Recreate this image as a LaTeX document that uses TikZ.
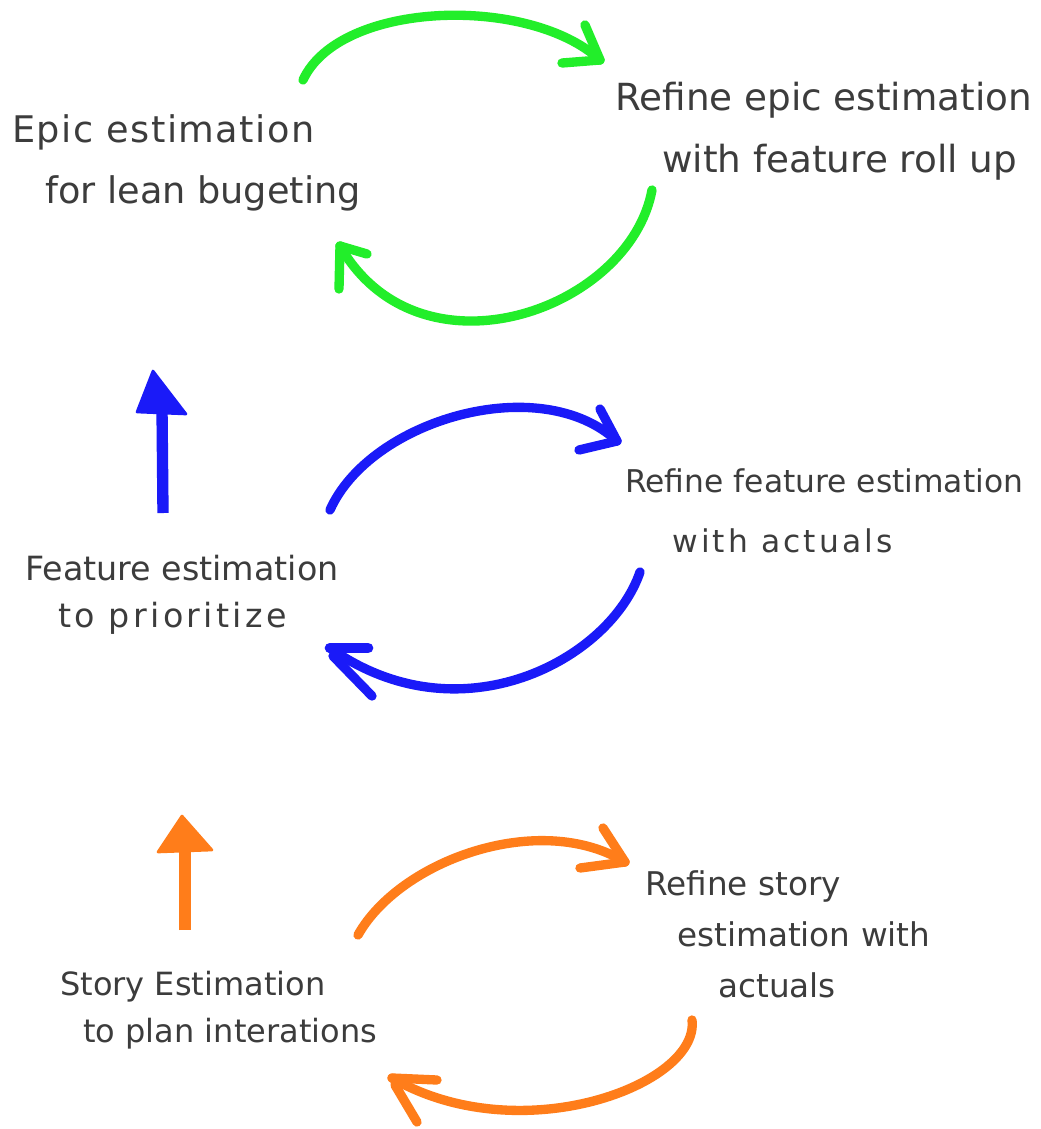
\documentclass[tikz,border=0pt]{standalone}
\usepackage{fontspec}
\setmainfont{DejaVu Sans}
\usetikzlibrary{arrows.meta}
\definecolor{pen}{HTML}{3C3C3C}
\definecolor{gpen}{HTML}{22EE2A}
\definecolor{bpen}{HTML}{1A1AF8}
\definecolor{opn}{HTML}{FF7D1A}
\newcommand\handtext[3]{{\fontsize{#1}{#2}\selectfont\begin{tabular}[t]{@{}l@{}}#3\end{tabular}}}
\newcommand\wideline[1]{{\addfontfeature{LetterSpace=10}#1}}
\newlength\pxu
\setlength\pxu{0.75pt}
\begin{document}
\begin{tikzpicture}[x=0.75pt,y=-0.75pt,
  lbl/.style={anchor=base west, inner sep=0pt, text=pen},
  stroke/.style={line width=7pt, line cap=round, line join=round},
  gstroke/.style={stroke, draw=gpen},
  bstroke/.style={stroke, draw=bpen},
  ostroke/.style={stroke, draw=opn},
  headfill/.style={line width=2pt, line join=round}]
\fill[white] (0,0) rectangle (1041,1129);
\path[use as bounding box] (0,0) rectangle (1041,1129);

% texts
\node[lbl] (epic) at (12,142) {\handtext{27.5pt}{45.75pt}{{\addfontfeature{LetterSpace=4}Epic estimation}\\\hspace*{33\pxu}for lean bugeting}};
\node[lbl] (refepic) at (615,110) {\handtext{28pt}{46.5pt}{Refine epic estimation\\\hspace*{47\pxu}with feature roll up}};
\node[lbl] (feat) at (25,580) {\handtext{25pt}{35.25pt}{Feature estimation\\\hspace*{33\pxu}\wideline{to prioritize}}};
\node[lbl] (reffeat) at (625,492) {\handtext{23.5pt}{45pt}{Refine feature estimation\\\hspace*{47\pxu}\wideline{with actuals}}};
\node[lbl] (story) at (60,995) {\handtext{24pt}{35.25pt}{Story Estimation\\\hspace*{23\pxu}to plan interations}};
\node[lbl] (refstory) at (645,895) {\handtext{24.5pt}{38.25pt}{Refine story\\\hspace*{32\pxu}estimation with\\\hspace*{73\pxu}actuals}};

% green loop
\coordinate (g1s) at (303,80);
\coordinate (g1t) at (600,60);
\draw[gstroke] (g1s) .. controls (340,0) and (530,-5) .. (g1t);
\draw[gstroke] (g1t) -- (585,25);
\draw[gstroke] (g1t) -- (562,63);
\coordinate (g2s) at (652,190);
\coordinate (g2t) at (340,246);
\draw[gstroke] (g2s) .. controls (630,310) and (420,385) .. (g2t);
\draw[gstroke] (g2t) -- (367,254);
\draw[gstroke] (g2t) -- (339,289);

% blue loop
\coordinate (b1s) at (330,510);
\coordinate (b1t) at (617,441);
\draw[bstroke] (b1s) .. controls (370,420) and (540,370) .. (b1t);
\draw[bstroke] (b1t) -- (600,409);
\draw[bstroke] (b1t) -- (579,450);
\coordinate (b2s) at (640,572);
\coordinate (b2t) at (330,648);
\draw[bstroke] (b2s) .. controls (610,660) and (460,740) .. (b2t);
\draw[bstroke, line width=8pt] (b2t) -- (368,648);
\draw[bstroke] (333,656) -- (372,696);

% blue up arrow
\coordinate (bvs) at (163,513);
\coordinate (bvt) at (162,408);
\draw[bstroke, line width=8.5pt, line cap=butt] (bvs) -- (bvt);
\filldraw[bpen, headfill] (137,412) -- (153,371) -- (186,414) -- cycle;

% orange loop
\coordinate (o1s) at (358,935);
\coordinate (o1t) at (625,862);
\draw[ostroke] (o1s) .. controls (400,860) and (540,810) .. (o1t);
\draw[ostroke] (o1t) -- (603,828);
\draw[ostroke] (o1t) -- (580,868);
\coordinate (o2s) at (692,1020);
\coordinate (o2t) at (392,1078);
\draw[ostroke] (o2s) .. controls (700,1085) and (520,1152) .. (o2t);
\draw[ostroke] (o2t) -- (437,1080);
\draw[ostroke] (395,1085) -- (417,1122);

% orange up arrow
\coordinate (ovs) at (185,930);
\coordinate (ovt) at (185,848);
\draw[ostroke, line width=8.5pt, line cap=butt] (ovs) -- (ovt);
\filldraw[opn, headfill] (158,852) -- (182,816) -- (212,850) -- cycle;
\end{tikzpicture}
\end{document}
